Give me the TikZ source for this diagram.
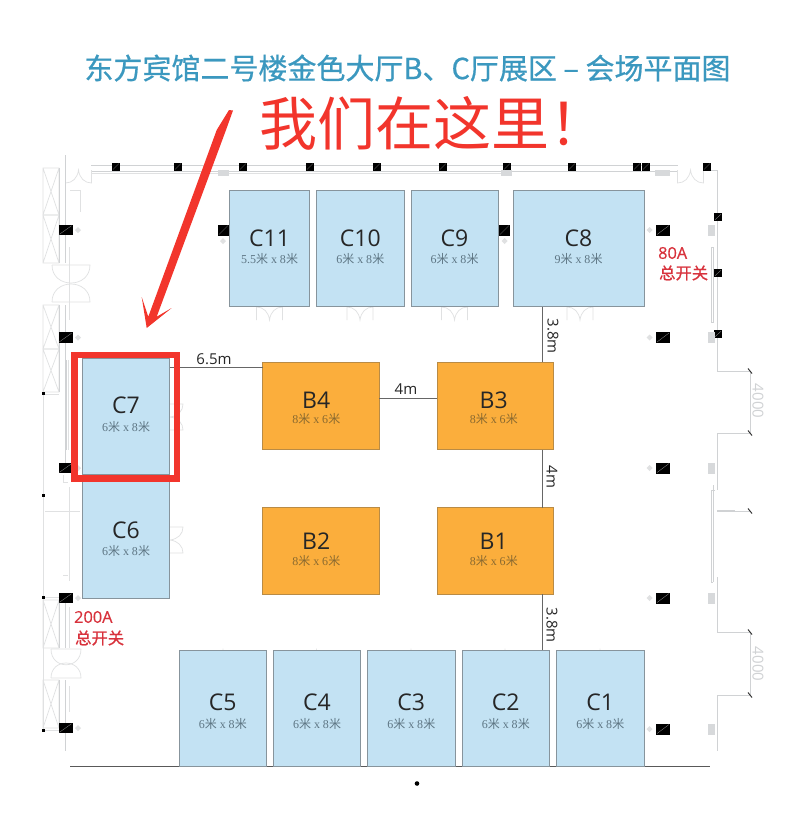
\documentclass[tikz,border=0pt]{standalone}
\usepackage{fontspec}
\setmainfont{Open Sans}
\newfontfamily\cjk{Noto Sans CJK SC}
\newfontfamily\cjkm[FakeBold=0.7]{Noto Sans CJK SC}
\newfontfamily\sansm[FakeBold=0.5]{Open Sans}
\newfontfamily\serifd{Liberation Serif}
\definecolor{cfill}{HTML}{C3E2F3}
\definecolor{bfill}{HTML}{FBAE3C}
\definecolor{cedge}{HTML}{87949C}
\definecolor{bedge}{HTML}{B98B45}
\definecolor{csub}{HTML}{5E7684}
\definecolor{bsub}{HTML}{8A6A30}
\definecolor{titleblue}{HTML}{3B98BF}
\definecolor{hot}{HTML}{F2352C}
\definecolor{note}{HTML}{D8323C}
\definecolor{wallc}{HTML}{D0D2D4}
\definecolor{ghost}{HTML}{E0E1E2}
\definecolor{dimc}{HTML}{666666}
\tikzset{
  hallc/.style={draw=cedge,fill=cfill,line width=1pt,inner sep=0pt,outer sep=0pt,anchor=north west},
  hallb/.style={draw=bedge,fill=bfill,line width=1pt,inner sep=0pt,outer sep=0pt,anchor=north west},
  hallname/.style={inner sep=0pt,text=black!85,font=\fontsize{23}{23}\selectfont},
  subc/.style={inner sep=0pt,text=csub},
  subb/.style={inner sep=0pt,text=bsub},
  dimline/.style={draw=dimc,line width=1pt},
  dimtext/.style={inner sep=0pt,text=black!85,font=\fontsize{15}{15}\selectfont},
  wall/.style={draw=wallc,line width=0.7pt},
  wallfaint/.style={draw=ghost,line width=0.7pt},
  redtext/.style={inner sep=0pt,text=note,font=\fontsize{16.3}{17}\selectfont},
}
\newcommand{\dimsub}[2]{\fontsize{12}{12}\selectfont\serifd #1{\cjk 米} x #2{\cjk 米}}
\newcommand{\hshift}{0}
\newcommand{\hall}[9]{%
  \pgfmathsetmacro{\hw}{#4-#2}\pgfmathsetmacro{\hh}{#5-#3}\pgfmathsetmacro{\hx}{(#2+#4)/2+\hshift}%
  \node[hall#9,minimum width=\hw pt,minimum height=\hh pt] (#1) at (#2,#3) {};%
  \node[hallname] (#1name) at (\hx,#7) {#6};%
  \node[sub#9] (#1sub) at (\hx,#8) {\dimsubtext};}
\newcommand{\blk}[4]{\fill[black] (#1-#3/2,#2-#4/2) rectangle (#1+#3/2,#2+#4/2);
  \draw[black!45!white,line width=0.3pt] (#1-#3/2+1,#2+#4/2-1) -- (#1+#3/2-1,#2-#4/2+1);}
\newcommand{\door}[3]{\begin{scope}[shift={(#1,#2)},rotate=#3]
  \draw[wallfaint] (-13,0) -- (-13,13) .. controls (-6,13) and (-1,8) .. (0,0) .. controls (1,8) and (6,13) .. (13,13) -- (13,0);
  \end{scope}}
\newcommand{\dome}[4]{\draw[wallfaint] (#1,#3) -- (#2,#3) .. controls (#2,#4) and (#1,#4) .. (#1,#3);}
\newcommand{\ghostmark}[2]{\fill[ghost] (#1-3,#2) -- (#1,#2-3) -- (#1+3,#2) -- (#1,#2+3) -- cycle;}
\newcommand{\xwin}[4]{\draw[wallfaint] (#1,#2) rectangle (#3,#4) (#1,#2) -- (#3,#4) (#3,#2) -- (#1,#4);}
\newcommand{\graybox}[4]{\fill[wallc!85!white] (#1-#3/2,#2-#4/2) rectangle (#1+#3/2,#2+#4/2);}
\begin{document}
\begin{tikzpicture}[x=1pt,y=-1pt]
\useasboundingbox (0,0) rectangle (800,827);
\fill[white] (0,0) rectangle (800,827);
% ---- architecture
\draw[wall] (91,165) -- (678,165) (91,171) -- (678,171) (703,170) -- (717,170);
\draw[wallfaint] (91,173) -- (510,173);
\door{78.5}{170}{0}\door{690.5}{170}{0}
\foreach \x in {116,178,243,310,377,443,507,572,637,646,707}{\blk{\x}{166.5}{8}{8}}
\graybox{223}{173}{11}{6}\graybox{506}{173}{11}{6}\graybox{662}{173}{15}{6}
\draw[wall] (717,170) -- (717,371) -- (750,371) -- (750,433) -- (717,433) -- (717,490) (715,490) -- (711,490) -- (711,582) -- (713,582) (713,485) -- (713,582)
 (717,577) -- (717,632) -- (750,632) -- (750,695) -- (717,695) -- (717,751);
\draw[wall,line width=1.6pt] (717,511) -- (735,511);
\draw[wall] (735,511) -- (750,511);
\draw[wall] (711,247) rectangle (713,322);
\foreach \y in {371,433,511,632,695}{\draw[black!80,line width=1pt] (748,\y-2.5) -- (752,\y+2.5);}
\foreach \y in {217,273,334}{\blk{718}{\y}{8}{7.5}}
\foreach \y in {230,337.5,468,598,729}{\graybox{711.5}{\y}{6.5}{11}\blk{663}{\y}{14}{11}\ghostmark{649.5}{\y}}
\node[inner sep=0pt,text=wallc,rotate=-90,font=\fontsize{15}{15}\selectfont] (dimA) at (758,401) {4000};
\node[inner sep=0pt,text=wallc,rotate=-90,font=\fontsize{15}{15}\selectfont] (dimB) at (758,664) {4000};
% left wall
\xwin{43}{168}{59}{215}\xwin{43}{215}{59}{263}
\xwin{43}{305}{59}{349}\xwin{43}{349}{59}{392}
\xwin{43}{600}{59}{648}\xwin{43}{680}{59}{728}
\draw[wall] (59,168) -- (59,263) (65,155) -- (65,263) (59,305) -- (59,392) (65,305) -- (65,470)
 (59,600) -- (59,648) (65,600) -- (65,648) (59,680) -- (59,728) (65,680) -- (65,751);
\draw[wallfaint] (43,393) -- (43,730) (43,394) -- (59,394) (43,597) -- (59,597) (43,730) -- (59,730);
\draw[wall,line width=1.4pt] (66,360) -- (66,450);
\draw[wallfaint] (69,247) -- (69,320) (68.5,360) -- (68.5,450) (69,487) -- (69,581) (45,511) -- (80,511) (63,475) -- (63,482) -- (68,482) (63,575) -- (68,575);
\draw[wallfaint] (69,607) -- (69,648) (69,686) -- (69,712);
\dome{52}{90}{265}{289}\dome{52}{90}{302}{278}
\dome{51}{81}{649}{670}\dome{51}{81}{678}{658}
\foreach \y in {393.5,495,597,730}{\fill[black] (41.5,\y-1.5) rectangle (44.5,\y+1.5);}
\foreach \y in {230,337.5,468,598,728}{\blk{65.5}{\y}{14}{10.5}\ghostmark{78}{\y}}
\blk{223.5}{230}{11}{11}\ghostmark{223}{241}
\blk{504.5}{230}{11}{11}\ghostmark{504.5}{241}
\draw[wallfaint] (70,190) -- (80,190) -- (80,212);
% room doors
\door{269.5}{320}{180}\door{360}{320}{180}\door{454.5}{320}{180}\door{580}{320}{180}
\door{223}{650}{0}\door{316.5}{650}{0}\door{411}{650}{0}\door{505}{650}{0}\door{600}{650}{0}
\door{170}{417}{90}\door{170}{540}{90}
% ---- bottom line
\draw[draw=black!65,line width=1pt] (70,766.5) -- (710,766.5);
\fill[black] (417,783.5) circle (2.3);
% ---- halls
\newcommand{\dimsubtext}{}
\renewcommand{\dimsubtext}{\dimsub{5.5}{8}}
\hall{c11}{229.5}{190}{309.5}{306.5}{C11}{238}{259}{c}
\renewcommand{\dimsubtext}{\dimsub{6}{8}}
\hall{c10}{316.5}{190}{404}{306.5}{C10}{238}{259}{c}
\hall{c9}{411}{190}{498}{306.5}{C9}{238}{259}{c}
\renewcommand{\dimsubtext}{\dimsub{9}{8}}
\hall{c8}{513}{190}{644}{306.5}{C8}{238}{259}{c}
\renewcommand{\dimsubtext}{\dimsub{6}{8}}
\hall{c7}{82.5}{358.5}{169.5}{474.5}{C7}{405.5}{427}{c}
\hall{c6}{82.5}{480}{169.5}{598}{C6}{530}{551}{c}
\hall{c5}{179.5}{650}{266}{766.5}{C5}{702}{724}{c}
\hall{c4}{273.5}{650}{360.5}{766.5}{C4}{702}{724}{c}
\hall{c3}{367.5}{650}{455}{766.5}{C3}{702}{724}{c}
\hall{c2}{462}{650}{549.5}{766.5}{C2}{702}{724}{c}
\hall{c1}{556.5}{650}{644}{766.5}{C1}{702}{724}{c}
\renewcommand{\dimsubtext}{\dimsub{8}{6}}
\renewcommand{\hshift}{-4.5}
\hall{b4}{262.5}{362}{379}{449.5}{B4}{400}{419}{b}
\hall{b2}{262.5}{507.5}{379}{594}{B2}{541.5}{561}{b}
\renewcommand{\hshift}{-1.5}
\hall{b3}{437}{362}{553.5}{449.5}{B3}{400}{419}{b}
\hall{b1}{437}{507.5}{553.5}{594}{B1}{541.5}{561}{b}
% ---- connectors
\draw[dimline] ([yshift=-5pt]b4.north west) -- ([yshift=-5pt]b4.north west -| c7.east);
\draw[dimline] (b4.east) ++(0,-7) -- ++(58,0);
\draw[dimline] ([xshift=-11pt]b3.north east) -- ([xshift=-11pt]b3.north east |- c8.south);
\draw[dimline] ([xshift=-11pt]b3.south east) -- ([xshift=-11pt]b1.north east);
\draw[dimline] ([xshift=-11pt]b1.south east) -- ([xshift=-11pt]b1.south east |- c2.north);
\node[dimtext] (l65) at (214,359) {6.5m};
\node[dimtext] (l4h) at (406,389) {4m};
\node[dimtext,rotate=-90] (l38a) at (553,336) {3.8m};
\node[dimtext,rotate=-90] (l4v) at (552,477) {4m};
\node[dimtext,rotate=-90] (l38b) at (552,625) {3.8m};
% ---- notes
\node[redtext,anchor=west] (a80) at (658,253) {\sansm 80A};
\node[redtext,anchor=west] (a80b) at (659,273) {\cjkm 总开关};
\node[redtext,anchor=west] (a200) at (74,617) {\sansm 200A};
\node[redtext,anchor=west] (a200b) at (75,638) {\cjkm 总开关};
% ---- red highlight and arrow
\draw[hot,line width=6.3pt,miter limit=10] (74.5,355) rectangle (177,478.5);
\fill[hot] (229,110) -- (233,110.5) -- (226,130) -- (156.7,316.7) -- (171.7,308) -- (146.7,328) -- (141.7,297) -- (148.3,316.7) -- (216.7,130) -- cycle;
% ---- titles
\node[inner sep=0pt,text=titleblue,font=\cjkm\fontsize{29}{30}\selectfont] (title) at (407.5,68) {东方宾馆二号楼金色大厅B、C厅展区 – 会场平面图};
\node[inner sep=0pt,anchor=west,text=hot,font=\cjk\fontsize{58}{60}\selectfont] (here) at (259,123) {我们在这里！};
\end{tikzpicture}
\end{document}
